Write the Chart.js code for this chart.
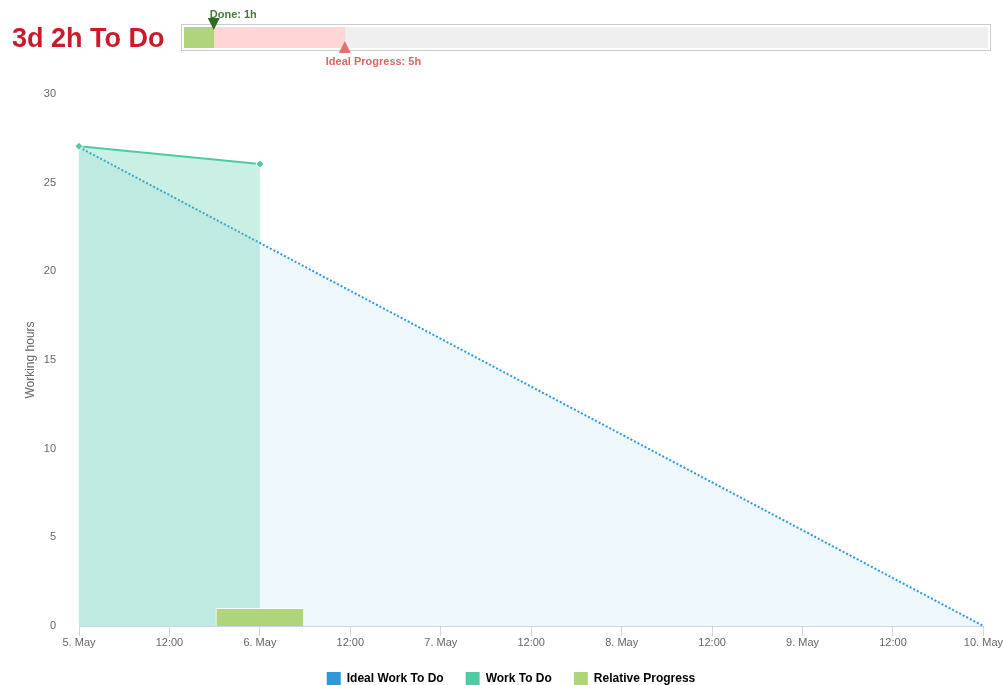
<!DOCTYPE html>
<html>
<head>
<meta charset="utf-8">
<script src="https://cdn.jsdelivr.net/npm/chart.js@4"></script>
<style>
    body { margin: 0; background: #fff; font-family: "Liberation Sans", Arial, sans-serif; }
    #page { position: relative; width: 1003px; height: 685px; overflow: hidden; }
    #title { position: absolute; left: 12px; top: 23px; font-size: 27px; font-weight: bold; color: #cc1a2a; white-space: nowrap; }
    #headWrap { position: absolute; left: 181px; top: 0; width: 810px; height: 80px; }
    #mainWrap { position: absolute; left: 0; top: 0; width: 1003px; height: 685px; }
</style>
</head>
<body>
<div id="page">
    <div id="mainWrap"><canvas id="burndownChart"></canvas></div>
    <div id="title">3d 2h To Do</div>
    <div id="headWrap"><canvas id="progressChart"></canvas></div>
</div>
<script>
// header progress (hours)
const totalHours = 27;
const doneHours = 1;
const idealHours = 5.4;

// burndown, x in hours since 5 May 00:00
const xTickLabels = ['5. May', '12:00', '6. May', '12:00', '7. May', '12:00', '8. May', '12:00', '9. May', '12:00', '10. May'];
const idealX = [0, 120];
const idealY = [27, 0];
const workX = [0, 24];
const workY = [27.05, 26.05];
const progressX = [24];
const progressY = [1];

Chart.defaults.font.family = '"Liberation Sans", Arial, sans-serif';
Chart.defaults.animation = false;

// ---- header progress bar ----
const markerPlugin = {
    id: 'markers',
    beforeDraw(chart) {
        const { ctx, chartArea: a } = chart;
        ctx.save();
        ctx.strokeStyle = '#cccccc';
        ctx.lineWidth = 1;
        ctx.strokeRect(a.left - 2.5, a.top - 2.5, a.right - a.left + 5, a.bottom - a.top + 5);
        ctx.restore();
    },
    afterDraw(chart) {
        const { ctx, chartArea: a, scales } = chart;
        const dx = scales.x.getPixelForValue(doneHours);
        const ix = scales.x.getPixelForValue(idealHours);
        ctx.save();
        // done marker
        ctx.fillStyle = '#2f6b22';
        ctx.beginPath();
        ctx.moveTo(dx - 6, a.top - 9);
        ctx.lineTo(dx + 6, a.top - 9);
        ctx.lineTo(dx, a.top + 3);
        ctx.closePath();
        ctx.fill();
        ctx.font = 'bold 11px "Liberation Sans", Arial, sans-serif';
        ctx.fillStyle = '#4a7a3a';
        ctx.textBaseline = 'alphabetic';
        ctx.fillText('Done: ' + Math.round(doneHours) + 'h', dx - 4, a.top - 9);
        // ideal marker
        ctx.fillStyle = '#e07272';
        ctx.beginPath();
        ctx.moveTo(ix - 6, a.bottom + 5);
        ctx.lineTo(ix + 6, a.bottom + 5);
        ctx.lineTo(ix, a.bottom - 7);
        ctx.closePath();
        ctx.fill();
        ctx.fillStyle = '#e06464';
        ctx.fillText('Ideal Progress: ' + Math.round(idealHours) + 'h', ix - 19, a.bottom + 17);
        ctx.restore();
    }
};

new Chart(document.getElementById('progressChart'), {
    type: 'bar',
    data: {
        labels: ['progress'],
        datasets: [
            { data: [doneHours], backgroundColor: '#afd47b' },
            { data: [idealHours - doneHours], backgroundColor: '#ffd6d6' },
            { data: [totalHours - idealHours], backgroundColor: '#efefef' }
        ]
    },
    options: {
        indexAxis: 'y',
        responsive: true,
        maintainAspectRatio: false,
        layout: { padding: { top: 27, bottom: 32, left: 3, right: 3 } },
        plugins: { legend: { display: false }, tooltip: { enabled: false } },
        datasets: { bar: { barPercentage: 1, categoryPercentage: 1, borderWidth: 0 } },
        scales: {
            x: { stacked: true, min: 0, max: totalHours, display: false },
            y: { stacked: true, display: false }
        }
    },
    plugins: [markerPlugin]
});

// ---- burndown chart ----
const toPoints = (xs, ys) => xs.map((x, i) => ({ x: x, y: ys[i] }));

// legend keeps its item spacing but takes less height
const legendFit = {
    id: 'legendFit',
    beforeInit(chart) {
        const fit = chart.legend.fit;
        chart.legend.fit = function () {
            fit.call(this);
            this.height -= 11;
        };
    }
};

new Chart(document.getElementById('burndownChart'), {
    data: {
        datasets: [
            {
                type: 'line',
                label: 'Ideal Work To Do',
                data: toPoints(idealX, idealY),
                borderColor: '#2b9ad6',
                backgroundColor: 'rgba(43,154,214,0.08)',
                borderDash: [2, 2],
                borderWidth: 2,
                pointRadius: 0,
                fill: 'origin',
                order: 3
            },
            {
                type: 'line',
                label: 'Work To Do',
                data: toPoints(workX, workY),
                borderColor: '#4fcaa5',
                backgroundColor: 'rgba(79,202,165,0.3)',
                borderWidth: 2,
                pointStyle: 'rectRot',
                pointRadius: 4,
                pointBackgroundColor: '#4fcaa5',
                pointBorderColor: '#ffffff',
                pointBorderWidth: 1,
                fill: 'origin',
                clip: false,
                order: 2
            },
            {
                type: 'bar',
                label: 'Relative Progress',
                data: toPoints(progressX, progressY),
                backgroundColor: '#aed57a',
                borderColor: '#ffffff',
                borderWidth: 1,
                barThickness: 88,
                order: 1
            }
        ]
    },
    options: {
        responsive: true,
        maintainAspectRatio: false,
        layout: { padding: { top: 94, right: 0, left: 19, bottom: 0 } },
        plugins: {
            tooltip: { enabled: false },
            legend: {
                position: 'bottom',
                labels: {
                    boxWidth: 14,
                    boxHeight: 14,
                    padding: 22,
                    color: '#333333',
                    font: { size: 12, weight: 'bold' },
                    generateLabels(chart) {
                        const cols = ['#2b9ad6', '#4fcaa5', '#aed57a'];
                        return chart.data.datasets.map((ds, i) => ({
                            text: ds.label,
                            fillStyle: cols[i],
                            strokeStyle: cols[i],
                            lineWidth: 0,
                            datasetIndex: i
                        }));
                    }
                }
            }
        },
        scales: {
            x: {
                type: 'linear',
                min: 0,
                max: 120,
                offset: false,
                afterBuildTicks(scale) {
                    scale.ticks = xTickLabels.map((t, i) => ({ value: i * 12 }));
                },
                afterFit(scale) { scale.height = 24; },
                ticks: {
                    color: '#666666',
                    font: { size: 11 },
                    maxRotation: 0,
                    autoSkip: false,
                    padding: 0,
                    callback: (v, i) => xTickLabels[i]
                },
                grid: { display: true, offset: false, drawOnChartArea: false, color: '#ccd6eb', tickLength: 10, tickColor: '#ccd6eb' },
                border: { color: '#ccd6eb' }
            },
            y: {
                min: 0,
                max: 30,
                afterFit(scale) { scale.width = 60; },
                ticks: { stepSize: 5, color: '#666666', font: { size: 11 }, padding: 15 },
                grid: { display: false },
                border: { display: false },
                title: { display: true, text: 'Working hours', color: '#666666', font: { size: 12 } }
            }
        }
    },
    plugins: [legendFit]
});
</script>
</body>
</html>
